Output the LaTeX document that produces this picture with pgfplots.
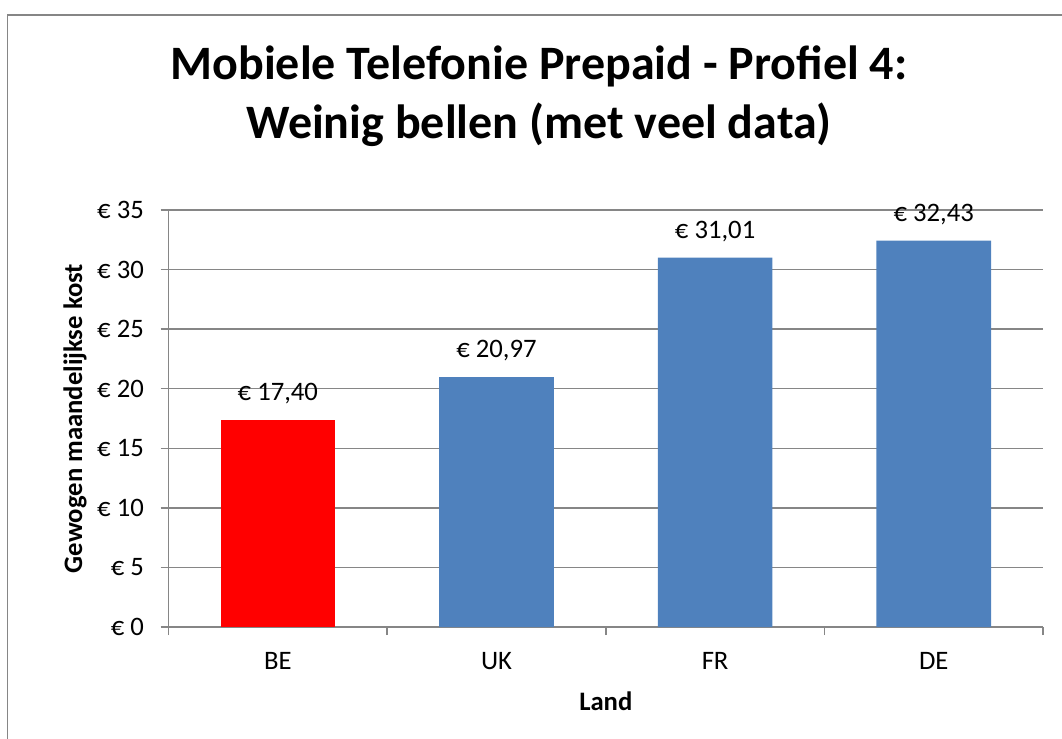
\documentclass[border=0pt]{standalone}
\usepackage{fontspec}
\setmainfont{Carlito}
\usepackage{pgfplots}
\pgfplotsset{compat=1.18}
\definecolor{barblue}{HTML}{4F81BD}
\definecolor{axgray}{HTML}{868686}
\pgfplotsset{/pgf/number format/.cd, assume math mode=true, use comma, 1000 sep={}}
\begin{document}
\begin{tikzpicture}
\clip (0,0) rectangle (796.5pt,-553.5pt);
\draw[axgray, line width=1.3pt] (5.6pt,-11.25pt) rectangle (900pt,-700pt);
\node[anchor=base, font=\fontsize{36}{38}\selectfont\bfseries] at (404.25pt,-59.5pt) {Mobiele Telefonie Prepaid - Profiel 4:};
\node[anchor=base, font=\fontsize{36}{38}\selectfont\bfseries] at (404.25pt,-103.5pt) {Weinig bellen (met veel data)};
\begin{axis}[
  at={(126.4pt,-470.25pt)}, anchor=south west,
  scale only axis, width=655.9pt, height=312.75pt,
  xmin=-0.5, xmax=3.5, ymin=0, ymax=35,
  axis x line*=bottom, axis y line*=left,
  axis line style={axgray, line width=1.1pt, -},
  ybar, bar width=86pt, bar shift=0pt,
  xtick={0,1,2,3}, xticklabels={BE,UK,FR,DE},
  minor xtick={-0.5,0.5,1.5,2.5,3.5},
  every major x tick/.append style={draw=none},
  ytick={0,5,...,35},
  yticklabel={€~\pgfmathprintnumber{\tick}},
  tick align=outside, major tick length=6pt, minor tick length=6pt,
  tick style={axgray, line width=1.1pt},
  ymajorgrids, major grid style={axgray, line width=1.1pt},
  ticklabel style={font=\fontsize{20}{22}\selectfont},
  yticklabel style={xshift=-9pt},
  xticklabel style={yshift=-9.5pt},
  xlabel={Land}, ylabel={Gewogen maandelijkse kost},
  every axis x label/.style={at={(axis description cs:0.5,0)}, anchor=base, yshift=-62.25pt, font=\fontsize{20}{22}\selectfont\bfseries},
  every axis y label/.style={at={(axis description cs:-0.1069,0.5)}, anchor=center, rotate=90, font=\fontsize{20}{22}\selectfont\bfseries},
  nodes near coords={€~\pgfmathprintnumber[fixed,fixed zerofill,precision=2]{\pgfplotspointmeta}},
  every node near coord/.append style={font=\fontsize{20}{22}\selectfont, text=black, yshift=8.5pt},
]
\addplot[fill=red, draw=none] coordinates {(0,17.40)};
\addplot[fill=barblue, draw=none] coordinates {(1,20.97) (2,31.01) (3,32.43)};
\end{axis}
\end{tikzpicture}
\end{document}
